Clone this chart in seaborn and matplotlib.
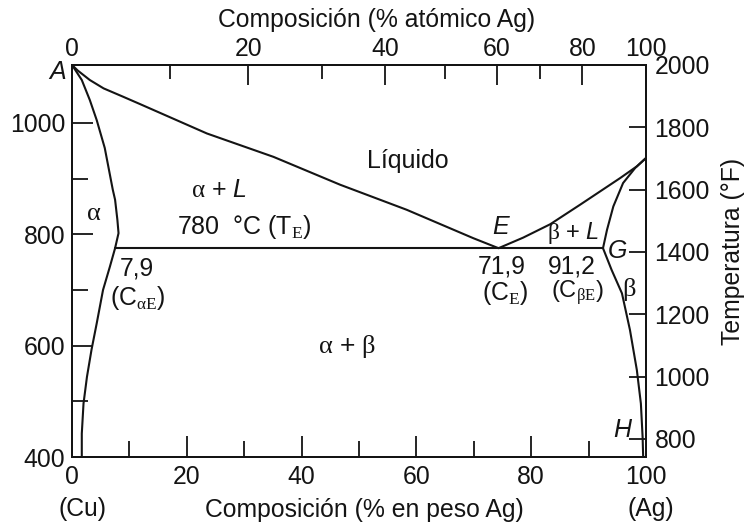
import matplotlib
matplotlib.use("Agg")
import matplotlib.pyplot as plt
import seaborn as sns

# Cu-Ag phase diagram (wt % Ag, deg C)
liquidus_wt = [0, 1.0, 3.1, 5.5, 8.9, 11.8, 23.5, 35.1, 46.7, 58.3, 69.9, 74.3,
               78.6, 83.3, 88.5, 92.0, 95.5, 98.4, 100]
liquidus_T = [1104, 1094, 1077, 1062, 1047, 1034, 981, 939, 889, 844, 793, 775,
              794, 818, 853, 877, 901, 922, 937]

alpha_solidus_wt = [0, 1.7, 3.1, 4.3, 5.7, 7.1, 7.5, 7.9, 8.1, 7.5]
alpha_solidus_T = [1104, 1077, 1041, 1005, 955, 880, 862, 826, 802, 775]

alpha_solvus_wt = [7.5, 6.6, 5.4, 4.3, 3.4, 2.6, 2.0, 1.7, 1.7]
alpha_solvus_T = [775, 742, 700, 640, 593, 544, 496, 442, 400]

beta_solidus_wt = [92.5, 93.2, 94.3, 96.0, 98.1, 100]
beta_solidus_T = [775, 808, 850, 892, 919, 937]

beta_solvus_wt = [92.5, 94.0, 95.8, 97.2, 98.4, 99.1, 99.4, 99.5]
beta_solvus_T = [775, 736, 694, 628, 556, 496, 436, 400]

eutectic_wt = [7.5, 92.5]
eutectic_T = [775, 775]

# axis ticks
wt_major = [0, 20, 40, 60, 80, 100]
wt_minor = [10, 30, 50, 70, 90]
degC_major = [400, 600, 800, 1000]
degC_minor = [500, 700, 900]
degF_ticks = [800, 1000, 1200, 1400, 1600, 1800, 2000]
# atomic % ticks placed on the wt % scale (as drawn in the reference)
at_major_pos = [0, 30.7, 54.5, 74.0, 88.9, 100]
at_major_lab = ["0", "20", "40", "60", "80", "100"]
at_minor_pos = [17.1, 43.6, 65.0, 81.5]

sns.set_theme(style="white")
plt.rcParams["font.family"] = ["Liberation Sans", "DejaVu Sans"]
plt.rcParams["mathtext.fontset"] = "custom"
plt.rcParams["mathtext.rm"] = "Liberation Serif"
plt.rcParams["mathtext.it"] = "Liberation Sans:italic"
plt.rcParams["mathtext.bf"] = "Liberation Sans:bold"

ink = "#141414"
fs = 17.8

fig = plt.figure(figsize=(7.48, 5.22), dpi=100)
ax = fig.add_axes([0.0963, 0.1245, 0.7674, 0.751])

curves = [
    (liquidus_wt, liquidus_T),
    (alpha_solidus_wt, alpha_solidus_T),
    (alpha_solvus_wt, alpha_solvus_T),
    (beta_solidus_wt, beta_solidus_T),
    (beta_solvus_wt, beta_solvus_T),
    (eutectic_wt, eutectic_T),
]
for xs, ys in curves:
    sns.lineplot(x=xs, y=ys, sort=False, estimator=None, color=ink,
                 linewidth=1.5, ax=ax)

ax.set_xlim(0, 100)
ax.set_ylim(400, 1104)
ax.set_xticks(wt_major)
ax.set_xticks(wt_minor, minor=True)
ax.set_yticks(degC_major)
ax.set_yticks(degC_minor, minor=True)
ax.tick_params(axis="both", which="major", direction="in", length=15,
               width=1.3, color=ink, labelsize=fs, labelcolor=ink)
ax.tick_params(axis="both", which="minor", direction="in", length=11.5,
               width=1.3, color=ink)
ax.tick_params(axis="x", which="major", pad=6)
ax.tick_params(axis="y", which="major", pad=5)
ax.set_xlabel("Composición (% en peso Ag)", fontsize=fs, color=ink)
ax.xaxis.label.set_va("center")
ax.xaxis.set_label_coords(0.509, -0.135)
ax.set_ylabel("")

for sp in ax.spines.values():
    sp.set_linewidth(1.4)
    sp.set_color(ink)

# right axis in deg F
ax_r = ax.twinx()
ax_r.set_ylim(742, 2000)
ax_r.set_yticks(degF_ticks)
ax_r.tick_params(axis="y", direction="in", length=12, width=1.3, color=ink,
                 labelsize=fs, labelcolor=ink, pad=6)
ax_r.set_ylabel("Temperatura (°F)", fontsize=fs, color=ink)
ax_r.yaxis.label.set_va("center")
ax_r.yaxis.set_label_coords(1.152, 0.525)

# top axis in atomic %
ax_t = ax.twiny()
ax_t.set_xlim(0, 100)
ax_t.set_xticks(at_major_pos)
ax_t.set_xticklabels(at_major_lab)
ax_t.set_xticks(at_minor_pos, minor=True)
ax_t.tick_params(axis="x", which="major", direction="in", length=14.5,
                 width=1.3, color=ink, labelsize=fs, labelcolor=ink, pad=3)
ax_t.tick_params(axis="x", which="minor", direction="in", length=10,
                 width=1.3, color=ink)
ax_t.set_xlabel("Composición (% atómico Ag)", fontsize=fs, color=ink)
ax_t.xaxis.label.set_va("center")
ax_t.xaxis.set_label_coords(0.531, 1.115)

for a in (ax_r, ax_t):
    for sp in a.spines.values():
        sp.set_linewidth(1.4)
        sp.set_color(ink)

# region and point labels
def note(x, y, s, size=fs, **kw):
    ax.text(x, y, s, fontsize=size, color=ink, ha=kw.pop("ha", "center"),
            va="center", **kw)

note(58.5, 932, "Líquido", size=18)
note(25.6, 880, r"$\mathrm{\alpha}$ + $L$", size=18)
note(18.3, 813, r"780  °C (T$_{\mathrm{E}}$)", ha="left", size=18)
note(48.0, 598, r"$\mathrm{\alpha}$ + $\mathrm{\beta}$", size=19)
note(3.8, 838, r"$\mathrm{\alpha}$", size=19)
note(97.0, 700, r"$\mathrm{\beta}$", size=19)
note(87.3, 802, r"$\mathrm{\beta}$ + $L$", size=17)
note(74.7, 813, "E", style="italic", size=18)
note(95.1, 770, "G", style="italic", size=18)
note(95.8, 449, "H", style="italic", size=18)
note(-2.6, 1092, "A", style="italic", size=18)
note(11.3, 739, "7,9")
note(11.5, 686, r"(C$_{\mathrm{\alpha E}}$)")
note(74.9, 743, "71,9")
note(75.4, 695, r"(C$_{\mathrm{E}}$)")
note(87.1, 743, "91,2")
note(88.0, 694, r"(C$_{\mathrm{\beta E}}$)", size=17)

fig.text(82 / 748, 1 - 509 / 522, "(Cu)", fontsize=fs, color=ink,
         ha="center", va="center")
fig.text(651 / 748, 1 - 509 / 522, "(Ag)", fontsize=fs, color=ink,
         ha="center", va="center")

fig.savefig("out.png", dpi=100, facecolor="white")
